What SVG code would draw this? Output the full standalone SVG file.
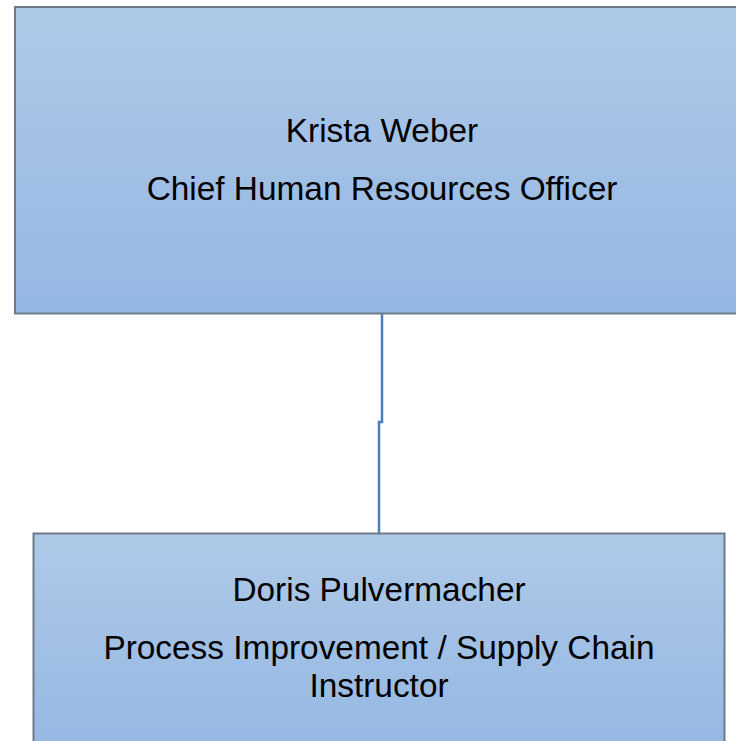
<svg xmlns="http://www.w3.org/2000/svg" width="736" height="741" viewBox="0 0 736 741">
<defs>
<linearGradient id="g" x1="0" y1="0" x2="0" y2="1">
<stop offset="0" stop-color="#afc9e8"/>
<stop offset="1" stop-color="#94b7e2"/>
</linearGradient>
<style>
.box{fill:url(#g);stroke:#6f7a89;stroke-width:2}
.t{font-family:"Liberation Sans",Arial,sans-serif;font-size:33.4px;fill:#000;text-anchor:middle}
.c{fill:none;stroke:#4a7ebb;stroke-width:2.5}
</style>
</defs>
<rect width="736" height="741" fill="#fff"/>
<g id="connectors">
<path class="c" d="M382 313.5 V422 H379 V533"/>
</g>
<g id="node-krista">
<rect class="box" x="15" y="7" width="734" height="306.5"/>
<text class="t" x="382" y="142">Krista Weber</text>
<text class="t" x="382" y="200">Chief Human Resources Officer</text>
</g>
<g id="node-doris">
<rect class="box" x="33.5" y="533.5" width="691" height="220"/>
<text class="t" x="379" y="601">Doris Pulvermacher</text>
<text class="t" x="379" y="659">Process Improvement / Supply Chain</text>
<text class="t" x="379" y="697">Instructor</text>
</g>
</svg>
